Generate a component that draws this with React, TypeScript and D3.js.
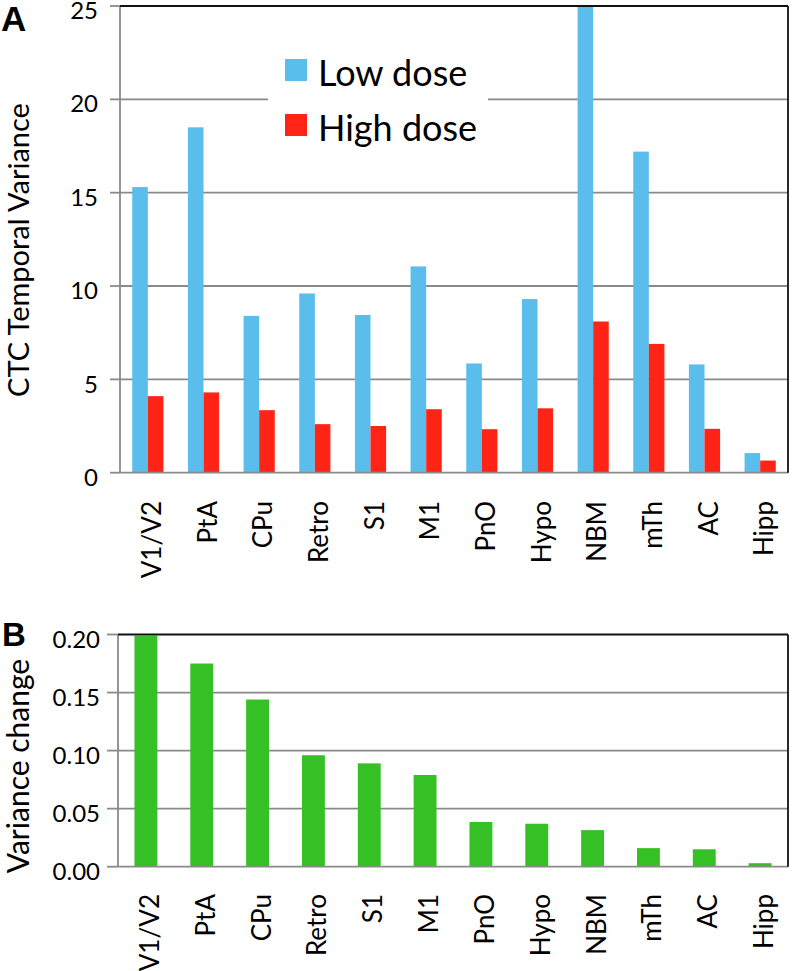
import React from "react";
import * as d3 from "d3";

const regions = ["V1/V2", "PtA", "CPu", "Retro", "S1", "M1", "PnO", "Hypo", "NBM", "mTh", "AC", "Hipp"];
const lowDose = [15.3, 18.5, 8.4, 9.6, 8.45, 11.05, 5.85, 9.3, 25, 17.2, 5.8, 1.05];
const highDose = [4.1, 4.3, 3.35, 2.6, 2.5, 3.4, 2.33, 3.45, 8.1, 6.9, 2.35, 0.65];
const varianceChange = [0.199, 0.175, 0.144, 0.096, 0.089, 0.079, 0.0385, 0.037, 0.0315, 0.016, 0.015, 0.003];
const ticksA = [0, 5, 10, 15, 20, 25];
const ticksB = [0, 0.05, 0.1, 0.15, 0.2];

const FONT = "Lato, 'Open Sans', sans-serif";
const GRID = "#8a8a8a";
const BLUE = "#5bbdeb";
const RED = "#ff2416";
const GREEN = "#35c125";

// panel A frame
const A = { left: 120, right: 788, top: 6, bottom: 472.7 };
// panel B frame
const B = { left: 118, right: 788, top: 634.5, bottom: 866.7 };

const App = () => {
  const xA = d3.scaleBand().domain(regions).range([A.left, A.right]);
  const yA = d3.scaleLinear().domain([0, 25]).range([A.bottom, A.top]);
  const xB = d3.scaleBand().domain(regions).range([B.left, B.right]);
  const yB = d3.scaleLinear().domain([0, 0.2]).range([B.bottom, B.top]);

  const bwA = xA.bandwidth() * 0.28;
  const bwB = xB.bandwidth() * 0.41;
  const fmtB = d3.format(".2f");

  return (
    <svg
      width={792}
      height={971}
      style={{ position: "absolute", left: 0, top: 0, background: "white" }}
      fontFamily={FONT}
    >
      {/* ---------- panel A ---------- */}
      <text x={1} y={31} fontFamily="'Liberation Sans', Arial, sans-serif" fontWeight="bold" fontSize={35}>A</text>
      {ticksA.map((t) => (
        <g key={"ga" + t}>
          {t > 0 && t < 25 ? (
            <line x1={A.left} x2={A.right} y1={yA(t)} y2={yA(t)} stroke={GRID} strokeWidth={1.8} />
          ) : null}
          <line x1={A.left - 10} x2={A.left} y1={yA(t)} y2={yA(t)} stroke={GRID} strokeWidth={1.8} />
          <text x={98} y={yA(t) + 4.5} dy="0.36em" textAnchor="end" fontSize={24}>{t}</text>
        </g>
      ))}
      {regions.map((r, i) => (
        <g key={"ba" + r}>
          <rect x={xA(r)! + xA.bandwidth() / 2 - bwA} y={yA(lowDose[i])} width={bwA} height={A.bottom - yA(lowDose[i])} fill={BLUE} />
          <rect x={xA(r)! + xA.bandwidth() / 2} y={yA(highDose[i])} width={bwA} height={A.bottom - yA(highDose[i])} fill={RED} />
          <text
            transform={`translate(${xA(r)! + xA.bandwidth() / 2 + 13},501) rotate(-90)`}
            textAnchor="end"
            fontSize={26}
          >{r}</text>
        </g>
      ))}
      <line x1={A.left} x2={A.left} y1={A.top} y2={A.bottom} stroke={GRID} strokeWidth={1.8} />
      <line x1={A.left} x2={A.right} y1={A.bottom} y2={A.bottom} stroke={GRID} strokeWidth={1.8} />
      <line x1={A.left} x2={A.right} y1={A.top} y2={A.top} stroke="#111" strokeWidth={1.8} />
      <line x1={A.right} x2={A.right} y1={A.top} y2={A.bottom} stroke="#111" strokeWidth={1.8} />
      <text transform={`translate(29,250) rotate(-90)`} textAnchor="middle" fontSize={29}>
        CTC Temporal Variance
      </text>

      {/* legend */}
      <rect x={268} y={45} width={220} height={105} fill="white" />
      <rect x={285} y={59} width={22} height={22} fill={BLUE} />
      <text x={318} y={86} fontSize={36}>Low dose</text>
      <rect x={285} y={114} width={22} height={22} fill={RED} />
      <text x={318} y={141} fontSize={36}>High dose</text>

      {/* ---------- panel B ---------- */}
      <text x={2} y={646} fontFamily="'Liberation Sans', Arial, sans-serif" fontWeight="bold" fontSize={33}>B</text>
      {ticksB.map((t) => (
        <g key={"gb" + t}>
          {t > 0 && t < 0.2 ? (
            <line x1={B.left} x2={B.right} y1={yB(t)} y2={yB(t)} stroke={GRID} strokeWidth={1.8} />
          ) : null}
          <line x1={B.left - 11} x2={B.left} y1={yB(t)} y2={yB(t)} stroke={GRID} strokeWidth={1.8} />
          <text x={100} y={yB(t) + 5} dy="0.36em" textAnchor="end" fontSize={24}>{fmtB(t)}</text>
        </g>
      ))}
      {regions.map((r, i) => (
        <g key={"bb" + r}>
          <rect x={xB(r)! + (xB.bandwidth() - bwB) / 2} y={yB(varianceChange[i])} width={bwB} height={B.bottom - yB(varianceChange[i])} fill={GREEN} />
          <text
            transform={`translate(${xB(r)! + xB.bandwidth() / 2 + 13},894) rotate(-90)`}
            textAnchor="end"
            fontSize={26}
          >{r}</text>
        </g>
      ))}
      <line x1={B.left} x2={B.left} y1={B.top} y2={B.bottom} stroke={GRID} strokeWidth={1.8} />
      <line x1={B.left} x2={B.right} y1={B.bottom} y2={B.bottom} stroke={GRID} strokeWidth={1.8} />
      <line x1={B.left} x2={B.right} y1={B.top} y2={B.top} stroke="#111" strokeWidth={1.8} />
      <line x1={B.right} x2={B.right} y1={B.top} y2={B.bottom} stroke="#111" strokeWidth={1.8} />
      <text transform={`translate(29,766) rotate(-90)`} textAnchor="middle" fontSize={30}>
        Variance change
      </text>
    </svg>
  );
};

export default App;
